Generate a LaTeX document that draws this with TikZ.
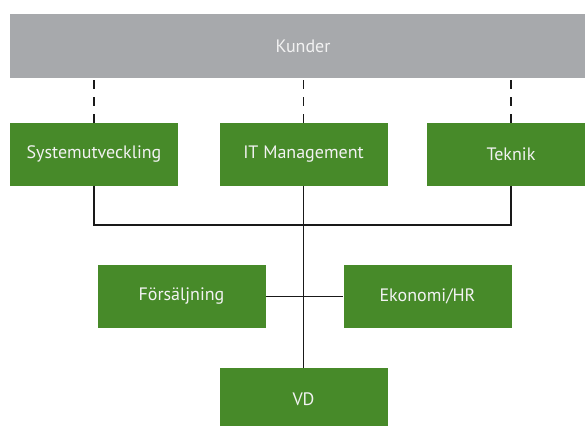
\documentclass[tikz,border=0pt]{standalone}
\usepackage{fontspec}
\setmainfont{PT Sans}
\usetikzlibrary{positioning}

\definecolor{orggreen}{HTML}{478A29}
\definecolor{orggray}{HTML}{A7A9AC}
\definecolor{boxtext}{HTML}{F2F2F2}

\tikzset{
  unitbox/.style={fill=orggreen, text=boxtext, minimum width=168pt, minimum height=63pt,
    inner sep=0pt, font=\fontsize{18}{21}\selectfont},
  kundbox/.style={fill=orggray, text=boxtext, minimum width=586pt, minimum height=64pt,
    inner sep=0pt, font=\fontsize{18}{21}\selectfont},
  treeline/.style={line width=1.2pt, black!90},
  kundline/.style={line width=1.1pt, black!90, dash pattern=on 9pt off 8pt, dash phase=-2pt}
}

\begin{document}
\begin{tikzpicture}[x=1pt,y=1pt]
\useasboundingbox (0,0) rectangle (585,425);
\clip (0,0) rectangle (585,425);

% kunder overst
\node[kundbox] (kunder) at (303,379) {Kunder};

% forsta raden
\node[unitbox] (system) at (94,270.5) {Systemutveckling};
\node[unitbox] (itman) at (303.5,270.5) {IT Management};
\node[unitbox] (teknik) at (511,270.5) {Teknik};

% andra raden
\node[unitbox] (forsalj) at (181.5,128.5) {Försäljning};
\node[unitbox] (ekonomi) at (427.5,128.5) {Ekonomi/HR};

% vd
\node[unitbox] (vd) at (303.5,25.5) {VD};

% streckade linjer mot kunder
\draw[kundline] (system.north |- kunder.south) -- (system.north);
\draw[kundline] (itman.north |- kunder.south) -- (itman.north);
\draw[kundline] (teknik.north |- kunder.south) -- (teknik.north);

% tradet
\coordinate (bar) at (0,200);
\draw[treeline] (system.south) -- (system.south |- bar) -- (teknik.south |- bar) -- (teknik.south);
\draw[treeline] (itman.south) -- (vd.north);
\draw[treeline] (forsalj.east) -- (ekonomi.west);
\end{tikzpicture}
\end{document}
